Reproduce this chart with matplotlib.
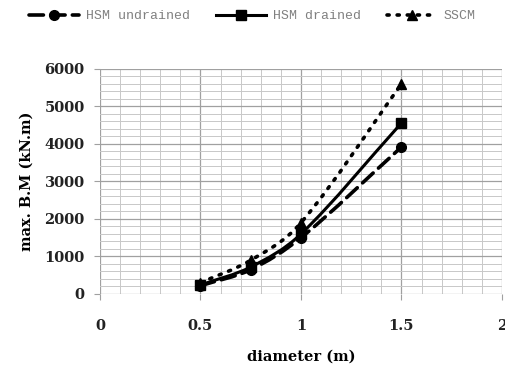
import matplotlib.pyplot as plt
from matplotlib.path import Path
from matplotlib.patches import PathPatch
from matplotlib.lines import Line2D
from matplotlib.ticker import MultipleLocator

diameter = [0.5, 0.75, 1.0, 1.5]
hsm_undrained = [220, 650, 1500, 3920]
hsm_drained = [240, 720, 1600, 4560]
sscm = [300, 900, 1900, 5600]

xticks = [0, 0.5, 1, 1.5, 2]
xtick_labels = ['0', '0.5', '1', '1.5', '2']
yticks = [0, 1000, 2000, 3000, 4000, 5000, 6000]


def smooth_path(xs, ys):
    # smoothed line like the spreadsheet one: hermite segments as beziers
    n = len(xs)
    slopes = []
    for i in range(n):
        a = max(i - 1, 0)
        b = min(i + 1, n - 1)
        slopes.append((ys[b] - ys[a]) / (xs[b] - xs[a]))
    verts = [(xs[0], ys[0])]
    codes = [Path.MOVETO]
    for i in range(n - 1):
        h = (xs[i + 1] - xs[i]) / 3
        verts += [(xs[i] + h, ys[i] + slopes[i] * h),
                  (xs[i + 1] - h, ys[i + 1] - slopes[i + 1] * h),
                  (xs[i + 1], ys[i + 1])]
        codes += [Path.CURVE4] * 3
    return Path(verts, codes)


fig = plt.figure(figsize=(5.05, 3.67), dpi=100)
ax = fig.add_axes([0.198, 0.199, 0.796, 0.613])

series = [
    (hsm_undrained, 'HSM undrained', (0, (4, 2)), 2.6, 'o'),
    (hsm_drained, 'HSM drained', '-', 2.2, 's'),
    (sscm, 'SSCM', (0, (0.6, 2.2)), 2.6, '^'),
]
handles = []
for vals, name, ls, lw, mk in series:
    patch = PathPatch(smooth_path(diameter, vals), fill=False, ec='black',
                      lw=lw, ls=ls, capstyle='round', zorder=3)
    ax.add_patch(patch)
    ax.plot(diameter, vals, ls='none', marker=mk, ms=7, color='black', zorder=4)
    handles.append(Line2D([], [], color='black', lw=lw, ls=ls, marker=mk, ms=7,
                          dash_capstyle='round', label=name))

ax.set_xlim(0, 2)
ax.set_ylim(0, 6000)
ax.set_xticks(xticks, xtick_labels)
ax.set_yticks(yticks, [str(v) for v in yticks])
ax.xaxis.set_minor_locator(MultipleLocator(0.1))
ax.yaxis.set_minor_locator(MultipleLocator(200))
ax.grid(which='major', color='#a0a0a0', lw=0.9)
ax.grid(which='minor', color='#c8c8c8', lw=0.7)
ax.set_axisbelow(True)
for s in ax.spines.values():
    s.set_visible(False)
ax.tick_params(which='major', length=4, color='#a0a0a0')
ax.tick_params(axis='x', pad=14)
ax.tick_params(axis='y', pad=7)
ax.tick_params(which='minor', length=0)
for lab in ax.get_xticklabels() + ax.get_yticklabels():
    lab.set_fontfamily('DejaVu Serif')
    lab.set_fontweight('bold')
    lab.set_fontsize(10.5)
    lab.set_color('#222222')

ax.set_xlabel('diameter (m)', family='DejaVu Serif', weight='bold', fontsize=10.5,
              labelpad=12)
ax.set_ylabel('max. B.M (kN.m)', family='DejaVu Serif', weight='bold', fontsize=10.5,
              labelpad=8)

fig.legend(handles=handles, loc='upper center', bbox_to_anchor=(0.5, 1.005), ncol=3,
           frameon=False, prop={'family': 'Liberation Mono', 'size': 9.5},
           labelcolor='#808080', handlelength=3.8, columnspacing=2.0,
           handletextpad=0.5)

fig.savefig('out.png', dpi=100)
